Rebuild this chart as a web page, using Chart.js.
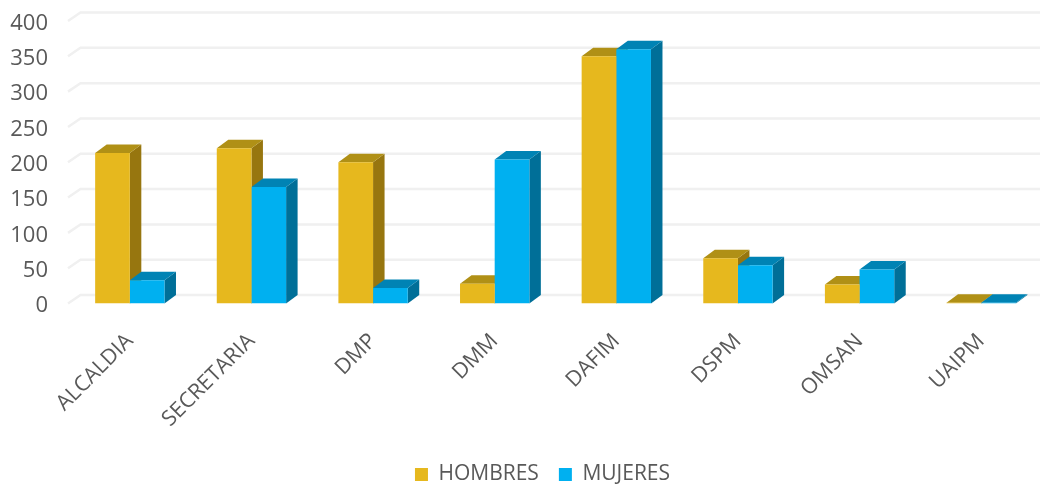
<!DOCTYPE html>
<html><head><meta charset="utf-8">
<style>html,body{margin:0;padding:0;background:#fff;overflow:hidden;width:1040px;height:485px}canvas{display:block}</style>
<script src="https://cdn.jsdelivr.net/npm/chart.js@4"></script></head>
<body><div style="width:1042px;height:485px;position:relative"><canvas id="c"></canvas></div>
<script>
const categories=["ALCALDIA","SECRETARIA","DMP","DMM","DAFIM","DSPM","OMSAN","UAIPM"];
const hombres=[213,220,200,28,350,64,27,1];
const mujeres=[33,165,22,204,360,54,48,1];
const yTicks=[0,50,100,150,200,250,300,350,400];
const seriesNames=["HOMBRES","MUJERES"];
const frontColors=["#E6B81E","#00B0F0"];
const sideColors=["#97760F","#006F98"];
const topColors=["#B09016","#0083B4"];
const depthX=11.5, depthY=8.5, FONT="'Open Sans'", INK="#595959";

const box3d={id:'box3d',
 afterLayout(chart){chart.legend.left+=21.5;chart.legend.right+=21.5;},
 beforeDatasetsDraw(chart){
  const {ctx,scales:{y},chartArea:a}=chart;
  ctx.save();
  ctx.strokeStyle="#F0F0F0";ctx.lineWidth=2.5;
  yTicks.forEach(v=>{const p=y.getPixelForValue(v);
    ctx.beginPath();ctx.moveTo(a.left-1,p);ctx.lineTo(a.left+depthX,p-depthY);ctx.lineTo(1042,p-depthY);ctx.stroke();});
  chart.data.datasets.forEach((d,i)=>{
    chart.getDatasetMeta(i).data.forEach(b=>{
      const l=b.x-b.width/2,r=b.x+b.width/2,t=b.y,bt=b.base;
      ctx.fillStyle=sideColors[i];ctx.beginPath();
      ctx.moveTo(r,t);ctx.lineTo(r+depthX,t-depthY);ctx.lineTo(r+depthX,bt-depthY);ctx.lineTo(r,bt);ctx.closePath();ctx.fill();
      ctx.fillStyle=topColors[i];ctx.beginPath();
      ctx.moveTo(l,t);ctx.lineTo(l+depthX,t-depthY);ctx.lineTo(r+depthX,t-depthY);ctx.lineTo(r,t);ctx.closePath();ctx.fill();
    });
  });
  ctx.restore();
 }};

new Chart(document.getElementById('c'),{
 type:'bar',
 data:{labels:categories,datasets:[
  {label:seriesNames[0],data:hombres,backgroundColor:frontColors[0]},
  {label:seriesNames[1],data:mujeres,backgroundColor:frontColors[1]}]},
 options:{responsive:true,maintainAspectRatio:false,animation:false,
  layout:{padding:{left:0,right:0,top:21,bottom:-10}},
  datasets:{bar:{categoryPercentage:0.57,barPercentage:1}},
  plugins:{tooltip:{enabled:false},
   legend:{position:'bottom',labels:{boxWidth:13,boxHeight:13,padding:20,color:INK,font:{family:FONT,size:21}}}},
  scales:{
   x:{grid:{display:false},border:{display:false},
      afterFit(s){s.height=140.5;},
      ticks:{color:INK,font:{family:FONT,size:21.5},minRotation:45,maxRotation:45,padding:17,autoSkip:false}},
   y:{min:0,max:400,grid:{display:false},border:{display:false},
      afterFit(s){s.width=69;s.paddingTop=0;s.paddingBottom=0;},
      afterBuildTicks(s){s.ticks=yTicks.map(v=>({value:v}));},
      ticks:{color:INK,font:{family:FONT,size:22},padding:13,labelOffset:2.5}}
  }},
 plugins:[box3d]});
</script></body></html>
